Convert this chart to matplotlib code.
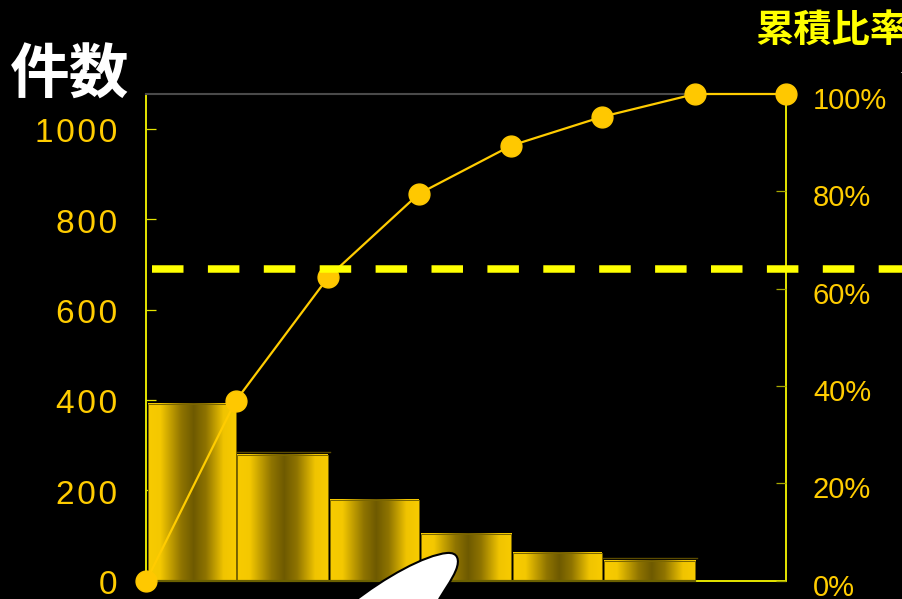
import numpy as np
import matplotlib
matplotlib.use('Agg')
import matplotlib.pyplot as plt
from matplotlib.colors import LinearSegmentedColormap
from matplotlib.patches import PathPatch, Rectangle
from matplotlib.path import Path
from matplotlib.transforms import ScaledTranslation

# Counts per category and cumulative share
counts = [391, 279, 178, 103, 61, 43]
ghost_tops = [None, 284, None, None, None, 50]
edges = [0, 0.975, 1.99, 2.98, 3.99, 4.98, 6.0, 7]
cumulative = [0, 36.9, 62.4, 79.5, 89.4, 95.3, 100, 100]
count_ticks = [0, 200, 400, 600, 800, 1000]
pct_ticks = [0, 20, 40, 60, 80, 100]
threshold = 64.1

W, H = 903, 599
GOLD = '#ffcc00'
YELLOW = '#ffff00'
AXIS = '#e6e600'

plt.rcParams['font.family'] = ['Liberation Sans', 'DejaVu Sans']

fig = plt.figure(figsize=(W / 100, H / 100), dpi=100, facecolor='black')
ax = fig.add_axes([146.5 / W, (H - 580.5) / H, 640 / W, 486.5 / H], facecolor='black')

# Bars with a metallic left-to-right shading
sheen = LinearSegmentedColormap.from_list('sheen', [
    (0.0, '#f8cb00'), (0.14, '#f4c800'), (0.38, '#8f7400'), (0.52, '#6e5a00'),
    (0.66, '#8f7400'), (0.86, '#f0c400'), (1.0, '#f8cb00')])
gradient = np.linspace(0, 1, 256).reshape(1, -1)
for i, c in enumerate(counts):
    x0, x1 = edges[i] + 0.02, edges[i + 1]
    ax.imshow(gradient, extent=[x0, x1, 0, c], cmap=sheen, aspect='auto', zorder=2)
    ax.add_patch(Rectangle((x0, 0), x1 - x0, c, fill=False, ec='#7a6500', lw=0.7, zorder=2.1))
    if ghost_tops[i]:
        ax.plot([edges[i], edges[i + 1] + 0.02], [ghost_tops[i]] * 2, color='#5a4a00', lw=1, zorder=1.5)
# Baseline turns dark olive underneath the bars
ax.plot([edges[0], edges[6]], [0, 0], color='#6b6000', lw=1.6, clip_on=False, zorder=3)
ax.set_xlim(0, 7)
ax.set_ylim(0, 1077.5)

ax.set_xticks(edges[1:-1])
ax.set_xticklabels([])
ax.tick_params(axis='x', direction='in', length=9, width=0.7, color='#c8b400')
ax.set_yticks(count_ticks)
ax.set_yticklabels(['\u200a'.join(str(t)) for t in count_ticks], color=GOLD, fontsize=24)
ax.tick_params(axis='y', direction='in', length=7, width=0.9, color=AXIS, pad=21)
for label in ax.get_yticklabels():
    label.set_transform(label.get_transform() + ScaledTranslation(0, -1 / 72, fig.dpi_scale_trans))

for side in ['left', 'right', 'bottom']:
    ax.spines[side].set_color(AXIS)
    ax.spines[side].set_linewidth(1.4)
ax.spines['top'].set_color('#4a4a4a')
ax.spines['top'].set_linewidth(1.5)
ax.spines['top'].set_bounds(0, 6)

# Cumulative share on the right-hand scale
ax2 = ax.twinx()
ax2.set_ylim(0, 100)
ax2.set_yticks(pct_ticks)
ax2.set_yticklabels([f'{t}%' for t in pct_ticks], color=GOLD, fontsize=21)
ax2.tick_params(axis='y', direction='in', length=7, width=0.9, color='#a8a800', pad=19)
for label in ax2.get_yticklabels():
    label.set_transform(label.get_transform() + ScaledTranslation(0, -3 / 72, fig.dpi_scale_trans))
for spine in ax2.spines.values():
    spine.set_visible(False)

ax2.plot(edges, cumulative, color=GOLD, lw=1.6, marker='o', ms=15,
         mfc='#ffc800', mec='#ffc800', clip_on=False, zorder=5)
ax2.plot([0.065, 8.3], [threshold, threshold], color=YELLOW, lw=5.4, clip_on=False, zorder=6,
         dashes=(31.5 / 7.5, 24.4 / 7.5), dash_capstyle='butt')

fig.text(9.5 / W, 1 - 77 / H, '件数', color='white', fontsize=43, fontweight='bold',
         family=['Noto Sans CJK JP', 'DejaVu Sans'], va='center', ha='left')
fig.text(755 / W, 1 - 30 / H, '累積比率', color=YELLOW, fontsize=27.5, fontweight='bold',
         family=['Noto Sans CJK JP', 'DejaVu Sans'], va='center', ha='left')

# White pointer shape coming in from the bottom edge
px = [(352, 603), (385, 577), (425, 555), (447, 553), (458, 552), (460, 560), (456, 570),
      (451, 582), (444, 590), (437, 603), (352, 603)]
codes = [Path.MOVETO] + [Path.CURVE4] * 9 + [Path.CLOSEPOLY]
verts = [(x / W, 1 - y / H) for x, y in px]
fig.add_artist(PathPatch(Path(verts, codes), transform=fig.transFigure, fc='white', ec='black', lw=1.5,
                         zorder=10))
# Speck at the right edge
fig.add_artist(Rectangle((901 / W, 1 - 73 / H), 2 / W, 1 / H, transform=fig.transFigure, fc='#999999', ec='none'))

fig.savefig('out.png', dpi=100, facecolor='black')
